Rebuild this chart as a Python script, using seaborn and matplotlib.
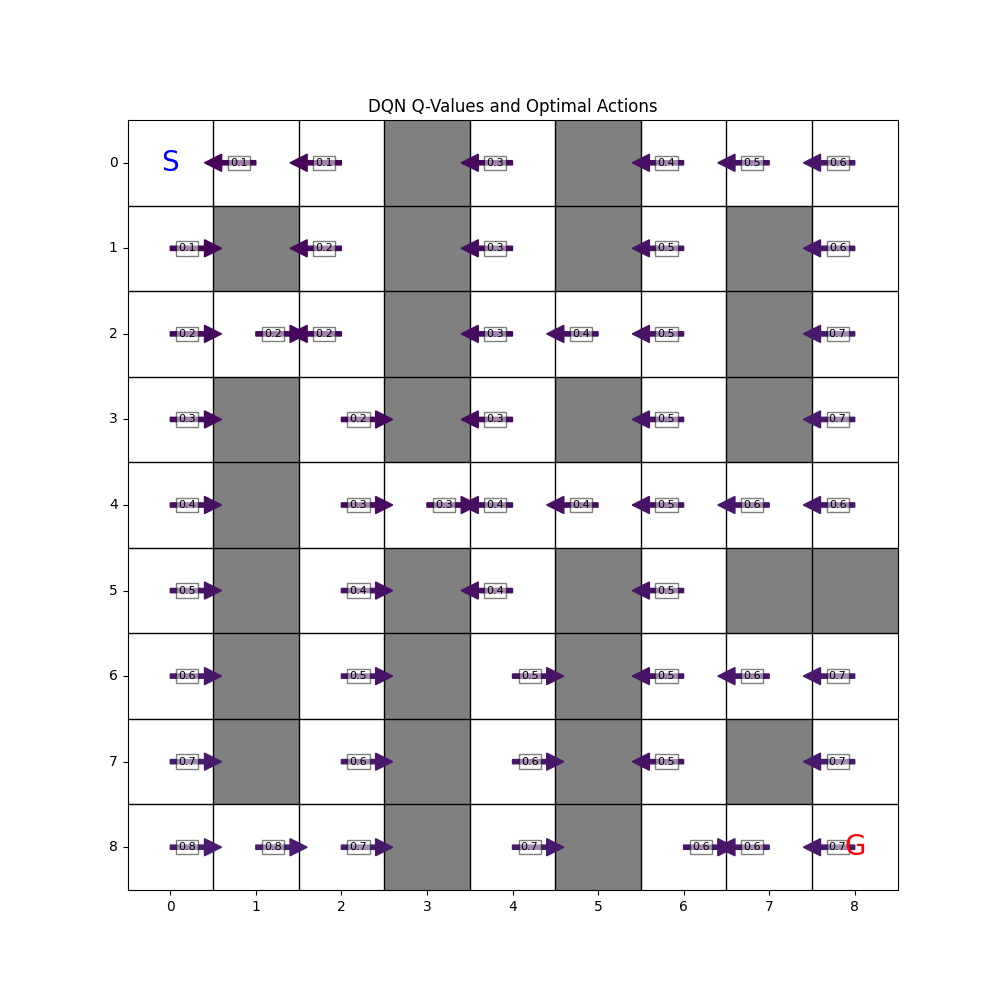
import numpy as np
import matplotlib.pyplot as plt
import seaborn as sb
from matplotlib.colors import ListedColormap

# 1 = wall, 0 = free cell
walls = [
    [0, 0, 0, 1, 0, 1, 0, 0, 0],
    [0, 1, 0, 1, 0, 1, 0, 1, 0],
    [0, 0, 0, 1, 0, 0, 0, 1, 0],
    [0, 1, 0, 1, 0, 1, 0, 1, 0],
    [0, 1, 0, 0, 0, 0, 0, 0, 0],
    [0, 1, 0, 1, 0, 1, 0, 1, 1],
    [0, 1, 0, 1, 0, 1, 0, 0, 0],
    [0, 1, 0, 1, 0, 1, 0, 1, 0],
    [0, 0, 0, 1, 0, 1, 0, 0, 0],
]

# best action per cell: 'L', 'R', or '' (none)
actions = [
    ['',  'L', 'L', '',  'L', '',  'L', 'L', 'L'],
    ['R', '',  'L', '',  'L', '',  'L', '',  'L'],
    ['R', 'R', 'L', '',  'L', 'L', 'L', '',  'L'],
    ['R', '',  'R', '',  'L', '',  'L', '',  'L'],
    ['R', '',  'R', 'R', 'L', 'L', 'L', 'L', 'L'],
    ['R', '',  'R', '',  'L', '',  'L', '',  ''],
    ['R', '',  'R', '',  'R', '',  'L', 'L', 'L'],
    ['R', '',  'R', '',  'R', '',  'L', '',  'L'],
    ['R', 'R', 'R', '',  'R', '',  'R', 'L', 'L'],
]

# max Q value per cell
qvals = [
    [0.0, 0.1, 0.1, 0.0, 0.3, 0.0, 0.4, 0.5, 0.6],
    [0.1, 0.0, 0.2, 0.0, 0.3, 0.0, 0.5, 0.0, 0.6],
    [0.2, 0.2, 0.2, 0.0, 0.3, 0.4, 0.5, 0.0, 0.7],
    [0.3, 0.0, 0.2, 0.0, 0.3, 0.0, 0.5, 0.0, 0.7],
    [0.4, 0.0, 0.3, 0.3, 0.4, 0.4, 0.5, 0.6, 0.6],
    [0.5, 0.0, 0.4, 0.0, 0.4, 0.0, 0.5, 0.0, 0.0],
    [0.6, 0.0, 0.5, 0.0, 0.5, 0.0, 0.5, 0.6, 0.7],
    [0.7, 0.0, 0.6, 0.0, 0.6, 0.0, 0.5, 0.0, 0.7],
    [0.8, 0.8, 0.7, 0.0, 0.7, 0.0, 0.6, 0.6, 0.7],
]

start = (0, 0)
goal = (8, 8)
n = len(walls)

fig, ax = plt.subplots(figsize=(10, 10), dpi=100)
sb.heatmap(np.array(walls), cmap=ListedColormap(['white', 'gray']), vmin=0, vmax=1,
           cbar=False, square=True, linewidths=0, ax=ax)

for s in ax.spines.values():
    s.set_visible(True)
    s.set_color('black')

# cell borders
for k in range(1, n):
    ax.axhline(k, color='black', lw=1)
    ax.axvline(k, color='black', lw=1)

for r in range(n):
    for c in range(n):
        a = actions[r][c]
        if a == '':
            continue
        x, y = c + 0.5, r + 0.5
        dx = -0.4 if a == 'L' else 0.4
        col = plt.cm.viridis(qvals[r][c] / 10)
        ax.arrow(x, y, dx, 0, width=0.05, head_width=0.2, head_length=0.2,
                 fc=col, ec=col, zorder=3)
        ax.text(x + dx / 2, y, f'{qvals[r][c]:.1f}', fontsize=8, ha='center', va='center',
                bbox=dict(boxstyle='square,pad=0.2', facecolor='white', alpha=0.5), zorder=4)

ax.text(start[1] + 0.5, start[0] + 0.5, 'S', fontsize=20, color='blue', ha='center', va='center')
ax.text(goal[1] + 0.5, goal[0] + 0.5, 'G', fontsize=20, color='red', ha='center', va='center',
        zorder=5)

ax.set_xticks(np.arange(n) + 0.5)
ax.set_xticklabels(range(n), rotation=0)
ax.set_yticks(np.arange(n) + 0.5)
ax.set_yticklabels(range(n), rotation=0)
ax.tick_params(length=3.5, width=0.8)
ax.set_title('DQN Q-Values and Optimal Actions')

plt.savefig('out.png')
